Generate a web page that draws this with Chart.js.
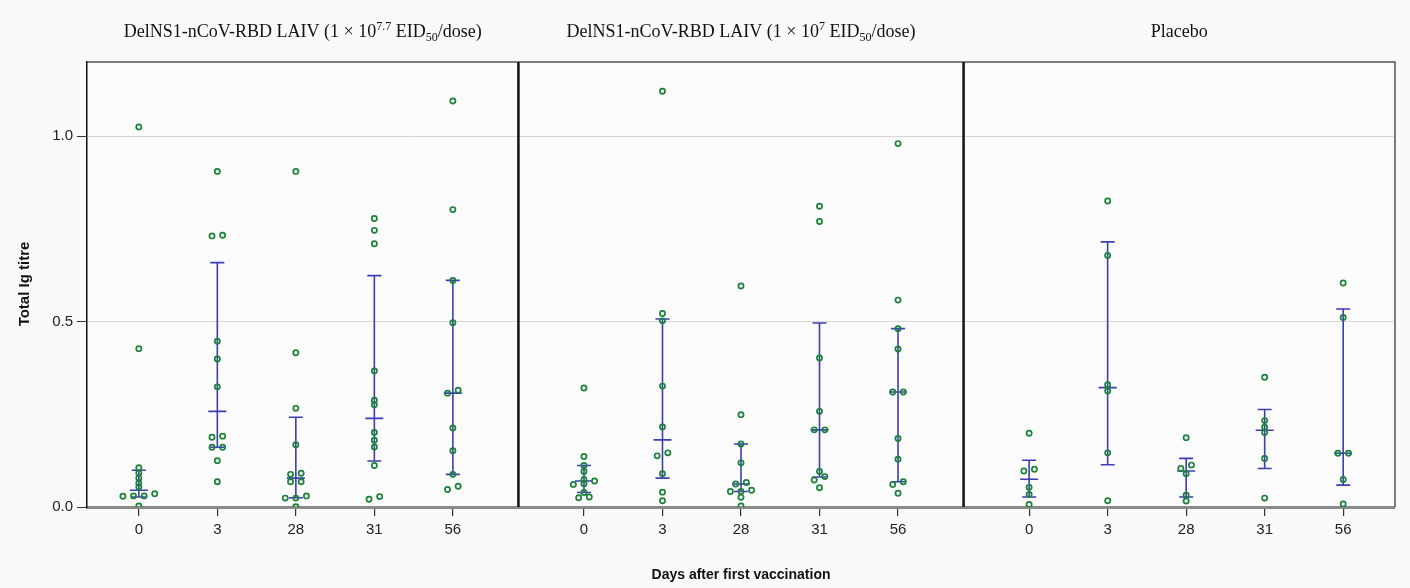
<!DOCTYPE html>
<html>
<head>
<meta charset="utf-8">
<title>Total Ig titre</title>
<script src="https://cdn.jsdelivr.net/npm/chart.js@4.4.1/dist/chart.umd.min.js"></script>
<style>
    html, body { margin: 0; padding: 0; background: #fafafa; }
    #titreChart { display: block; }
</style>
</head>
<body>
<canvas id="titreChart" width="1410" height="588"></canvas>
<script>
// Categories / ticks
const days = ["0", "3", "28", "31", "56"];
const yTicks = [0, 0.5, 1.0];

// Individual values per day (0, 3, 28, 31, 56)
const highDose = [
    [1.025, 0.427, 0.106, 0.092, 0.078, 0.065, 0.054, 0.036, 0.030, 0.030, 0.029, 0.003],
    [0.905, 0.733, 0.731, 0.447, 0.399, 0.324, 0.191, 0.188, 0.161, 0.161, 0.125, 0.068],
    [0.905, 0.416, 0.266, 0.168, 0.091, 0.088, 0.068, 0.068, 0.030, 0.024, 0.024, 0.001],
    [0.778, 0.746, 0.710, 0.367, 0.288, 0.276, 0.201, 0.180, 0.162, 0.112, 0.028, 0.021],
    [1.095, 0.802, 0.611, 0.497, 0.315, 0.307, 0.213, 0.152, 0.088, 0.056, 0.047]
];
const lowDose = [
    [0.321, 0.136, 0.112, 0.096, 0.074, 0.070, 0.063, 0.061, 0.039, 0.027, 0.025],
    [1.121, 0.522, 0.502, 0.326, 0.216, 0.146, 0.138, 0.090, 0.040, 0.017],
    [0.596, 0.249, 0.170, 0.119, 0.066, 0.062, 0.045, 0.042, 0.042, 0.026, 0.003],
    [0.811, 0.770, 0.402, 0.258, 0.208, 0.208, 0.096, 0.082, 0.073, 0.052],
    [0.980, 0.558, 0.481, 0.426, 0.310, 0.310, 0.185, 0.129, 0.068, 0.061, 0.037]
];
const placebo = [
    [0.199, 0.102, 0.097, 0.053, 0.034, 0.007],
    [0.825, 0.678, 0.330, 0.313, 0.146, 0.017],
    [0.187, 0.113, 0.104, 0.090, 0.032, 0.016],
    [0.350, 0.233, 0.215, 0.201, 0.131, 0.024],
    [0.604, 0.511, 0.145, 0.145, 0.074, 0.008]
];

// Median and interquartile range per day
const highMedian = [0.045, 0.258, 0.078, 0.239, 0.307];
const highQ1 = [0.027, 0.161, 0.025, 0.124, 0.088];
const highQ3 = [0.099, 0.659, 0.242, 0.624, 0.611];
const lowMedian = [0.070, 0.181, 0.062, 0.208, 0.310];
const lowQ1 = [0.039, 0.078, 0.042, 0.081, 0.068];
const lowQ3 = [0.112, 0.507, 0.170, 0.496, 0.481];
const placeboMedian = [0.075, 0.322, 0.097, 0.207, 0.145];
const placeboQ1 = [0.027, 0.114, 0.027, 0.104, 0.059];
const placeboQ3 = [0.126, 0.715, 0.131, 0.263, 0.534];

// Panel titles (text pieces, some raised or lowered)
const panelTitles = [
    [["DelNS1-nCoV-RBD LAIV (1 × 10", 0], ["7.7", 1], [" EID", 0], ["50", -1], ["/dose)", 0]],
    [["DelNS1-nCoV-RBD LAIV (1 × 10", 0], ["7", 1], [" EID", 0], ["50", -1], ["/dose)", 0]],
    [["Placebo", 0]]
];

const groups = [highDose, lowDose, placebo];
const stats = [
    [highMedian, highQ1, highQ3],
    [lowMedian, lowQ1, lowQ3],
    [placeboMedian, placeboQ1, placeboQ3]
];

const panelGap = 5.67;   // x distance between day 0 of neighbouring panels
const sans = "'Liberation Sans', Arial, sans-serif";
const serif = "'Liberation Serif', 'DejaVu Serif', serif";
const barColor = "#3d3db4";

// spread points with (nearly) equal values side by side
function jitter(values) {
    const order = values.map((v, i) => i).sort((a, b) => values[a] - values[b]);
    const offs = new Array(values.length).fill(0);
    let k = 0;
    while (k < order.length) {
        let j = k;
        while (j + 1 < order.length && values[order[j + 1]] - values[order[k]] < 0.011) j++;
        const n = j - k + 1;
        for (let m = 0; m < n; m++) offs[order[k + m]] = (m - (n - 1) / 2) * 0.135;
        k = j + 1;
    }
    return offs;
}

const points = [];
const tickPos = [];
groups.forEach((g, p) => {
    g.forEach((vals, d) => {
        tickPos.push(p * panelGap + d);
        const offs = jitter(vals);
        vals.forEach((v, i) => points.push({ x: p * panelGap + d + offs[i], y: v }));
    });
});
// panel separators half way between panels
const separators = [4 + (panelGap - 4) / 2, panelGap + 4 + (panelGap - 4) / 2];

const decorPlugin = {
    id: "decor",
    beforeDraw(chart) {
        const { ctx, chartArea: a } = chart;
        ctx.save();
        ctx.fillStyle = "#fbfbfb";
        ctx.fillRect(a.left, a.top, a.right - a.left, a.bottom - a.top);
        ctx.restore();
    },
    beforeDatasetsDraw(chart) {
        const { ctx, scales: { x, y } } = chart;
        ctx.save();
        ctx.strokeStyle = barColor;
        ctx.lineWidth = 1.6;
        stats.forEach(([med, q1, q3], p) => {
            med.forEach((m, d) => {
                const px = x.getPixelForValue(p * panelGap + d);
                const yTop = y.getPixelForValue(q3[d]);
                const yBot = y.getPixelForValue(q1[d]);
                const yMed = y.getPixelForValue(m);
                ctx.beginPath();
                ctx.moveTo(px, yTop); ctx.lineTo(px, yBot);
                ctx.moveTo(px - 7, yTop); ctx.lineTo(px + 7, yTop);
                ctx.moveTo(px - 7, yBot); ctx.lineTo(px + 7, yBot);
                ctx.moveTo(px - 9, yMed); ctx.lineTo(px + 9, yMed);
                ctx.stroke();
            });
        });
        ctx.restore();
    },
    afterDatasetsDraw(chart) {
        const { ctx, chartArea: a, scales: { x } } = chart;
        ctx.save();
        ctx.strokeStyle = "#555";
        ctx.lineWidth = 1.5;
        ctx.beginPath();
        ctx.moveTo(a.left, a.top); ctx.lineTo(a.right, a.top); ctx.lineTo(a.right, a.bottom);
        ctx.stroke();
        ctx.strokeStyle = "#111";
        ctx.lineWidth = 2.5;
        separators.forEach(s => {
            const px = x.getPixelForValue(s);
            ctx.beginPath();
            ctx.moveTo(px, a.top); ctx.lineTo(px, a.bottom);
            ctx.stroke();
        });
        ctx.restore();
    },
    afterDraw(chart) {
        const { ctx, chartArea: a, scales: { x } } = chart;
        ctx.save();
        ctx.fillStyle = "#111";
        ctx.textBaseline = "alphabetic";
        const edges = [a.left, x.getPixelForValue(separators[0]), x.getPixelForValue(separators[1]), a.right];
        panelTitles.forEach((parts, p) => {
            const cx = (edges[p] + edges[p + 1]) / 2;
            const fontFor = s => (s === 0 ? "18px " : "12px ") + serif;
            let w = 0;
            parts.forEach(([t, s]) => { ctx.font = fontFor(s); w += ctx.measureText(t).width; });
            let px = cx - w / 2;
            parts.forEach(([t, s]) => {
                ctx.font = fontFor(s);
                const dy = s > 0 ? -7 : (s < 0 ? 4 : 0);
                ctx.fillText(t, px, 37 + dy);
                px += ctx.measureText(t).width;
            });
        });
        // axis titles
        ctx.textAlign = "center";
        ctx.textBaseline = "middle";
        ctx.font = "bold 14px " + sans;
        ctx.fillText("Days after first vaccination", (a.left + a.right) / 2, 575);
        ctx.font = "bold 15px " + sans;
        ctx.translate(25, 284);
        ctx.rotate(-Math.PI / 2);
        ctx.fillText("Total Ig titre", 0, 0);
        ctx.restore();
    }
};

const ctx = document.getElementById("titreChart").getContext("2d");

const titreChart = new Chart(ctx, {
    type: "scatter",
    data: {
        datasets: [{
            label: "Total Ig titre",
            data: points,
            pointStyle: "circle",
            pointRadius: 2.6,
            pointBorderWidth: 1.7,
            pointBorderColor: "#1c8239",
            pointBackgroundColor: "rgba(255,255,255,0)"
        }]
    },
    options: {
        responsive: false,
        animation: false,
        layout: { padding: { top: 62, right: 15, left: 0, bottom: 0 } },
        plugins: {
            legend: { display: false },
            tooltip: { enabled: false }
        },
        scales: {
            x: {
                type: "linear",
                min: -0.66,
                max: 16.0,
                afterBuildTicks: s => { s.ticks = tickPos.map(v => ({ value: v })); },
                afterFit: s => { s.height = 81; },
                ticks: {
                    autoSkip: false,
                    maxRotation: 0,
                    padding: 5,
                    color: "#222",
                    font: { family: sans, size: 15 },
                    callback: (v, i) => days[i % days.length]
                },
                grid: { drawOnChartArea: false, tickLength: 9, tickColor: "#333", lineWidth: 1.2 },
                border: { display: true, color: "#8a8a8a", width: 3 }
            },
            y: {
                min: 0,
                max: 1.2,
                afterBuildTicks: s => { s.ticks = yTicks.map(v => ({ value: v })); },
                afterFit: s => { s.width = 87; },
                ticks: {
                    padding: 4,
                    color: "#222",
                    font: { family: sans, size: 15 },
                    callback: v => v.toFixed(1)
                },
                grid: {
                    color: c => (c.tick && c.tick.value === 0 ? "rgba(0,0,0,0)" : "#d6d6d6"),
                    tickColor: "#333",
                    tickLength: 10,
                    lineWidth: 1
                },
                border: { display: true, color: "#111", width: 1.5 }
            }
        }
    },
    plugins: [decorPlugin]
});
</script>
</body>
</html>
